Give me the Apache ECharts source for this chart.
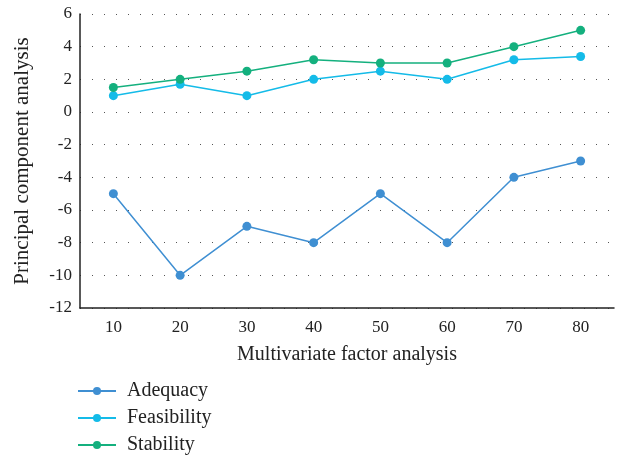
<!DOCTYPE html>
<html>
<head>
<meta charset="utf-8">
<script src="https://cdn.jsdelivr.net/npm/echarts@6/dist/echarts.min.js"></script>
<style>
  html, body { margin: 0; padding: 0; background: #fff; }
  #chart { width: 624px; height: 462px; }
</style>
</head>
<body>
<div id="chart"></div>
<script>
// x categories and y tick range
const categories = ['10', '20', '30', '40', '50', '60', '70', '80'];
const yMin = -12, yMax = 6, yStep = 2;

// series values
const adequacy    = [-5, -10, -7, -8, -5, -8, -4, -3];
const feasibility = [1, 1.7, 1, 2, 2.5, 2, 3.2, 3.4];
const stability   = [1.5, 2, 2.5, 3.2, 3, 3, 4, 5];

const seriesNames = ['Adequacy', 'Feasibility', 'Stability'];
const colors = ['#3f8fd2', '#14bbe8', '#14b07e'];
const FONT = '"Liberation Serif", "DejaVu Serif", serif';

function line(name, data, color) {
  return {
    name, type: 'line', data,
    symbol: 'circle', symbolSize: 9,
    itemStyle: { color },
    lineStyle: { color, width: 1.5 },
    z: 3
  };
}

const chart = echarts.init(document.getElementById('chart'), null, { renderer: 'canvas' });
chart.setOption({
  animation: false,
  backgroundColor: '#fff',
  grid: { left: 80, right: 10, top: 14, bottom: 154, containLabel: false },
  legend: {
    orient: 'vertical',
    left: 72, top: 376,
    itemGap: 7,
    itemWidth: 38, itemHeight: 10,
    textStyle: { fontFamily: FONT, fontSize: 20, color: '#222', padding: [0, 0, 0, 6] },
    data: seriesNames
  },
  xAxis: {
    type: 'category',
    data: categories,
    boundaryGap: true,
    name: 'Multivariate factor analysis',
    nameLocation: 'middle',
    nameGap: 37,
    nameTextStyle: { fontFamily: FONT, fontSize: 20, color: '#222' },
    axisLine: { onZero: false, lineStyle: { color: '#222', width: 1.5 } },
    axisTick: { show: false },
    axisLabel: { fontFamily: FONT, fontSize: 17, color: '#222', margin: 11 },
    splitLine: { show: false }
  },
  yAxis: {
    type: 'value',
    min: yMin, max: yMax, interval: yStep,
    name: 'Principal component analysis',
    nameLocation: 'middle',
    nameGap: 47,
    nameTextStyle: { fontFamily: FONT, fontSize: 21, color: '#222' },
    axisLine: { show: true, lineStyle: { color: '#222', width: 1.5 } },
    axisTick: { show: false },
    axisLabel: { fontFamily: FONT, fontSize: 17, color: '#222', margin: 8 },
    splitLine: {
      show: true,
      lineStyle: { color: '#555', width: 1, type: [1, 11] }
    }
  },
  series: [
    line(seriesNames[0], adequacy, colors[0]),
    line(seriesNames[1], feasibility, colors[1]),
    line(seriesNames[2], stability, colors[2])
  ]
});
</script>
</body>
</html>
